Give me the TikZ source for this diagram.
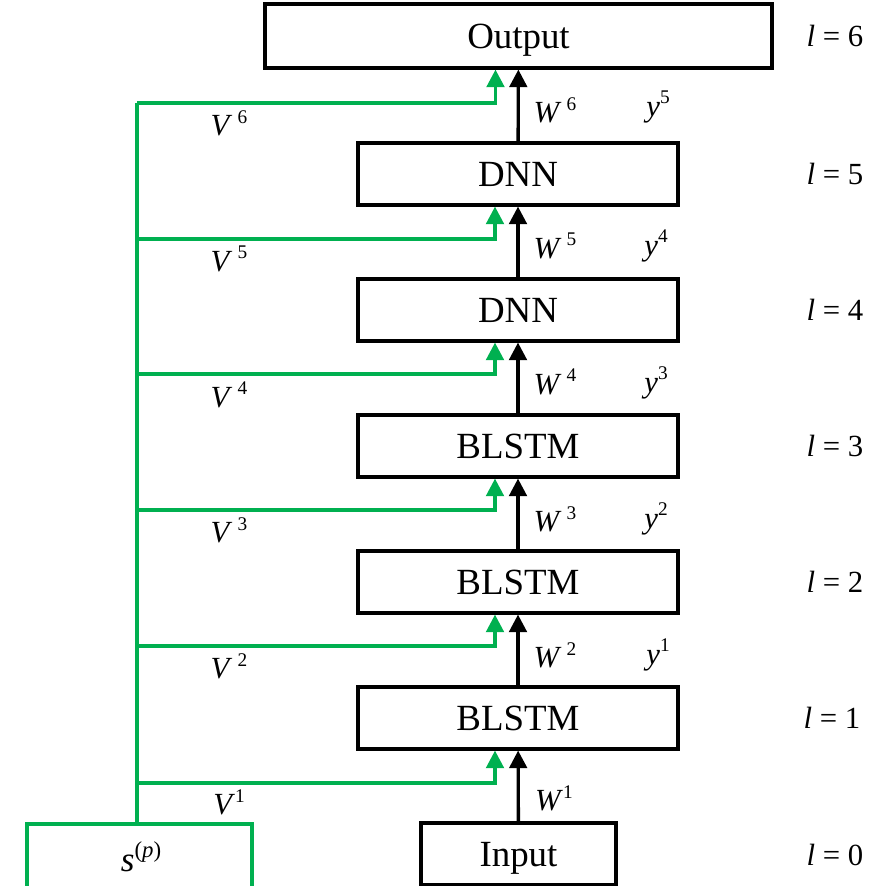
\documentclass[tikz,border=0pt]{standalone}
\usepackage{fontspec}
\setmainfont{Liberation Serif}
\usetikzlibrary{arrows.meta}
\definecolor{netgreen}{RGB}{0,176,80}
\newcommand{\lidx}[1]{\raisebox{7pt}{\fontsize{11}{12}\selectfont #1}}
\tikzstyle{layer}=[draw,line width=1.8pt,minimum width=6.4cm,minimum height=1.24cm,inner sep=0pt,text height=14pt,text depth=0pt,font=\fontsize{21}{24}\selectfont]
\tikzstyle{lbl}=[inner sep=0pt,font=\fontsize{17.5}{20}\selectfont]
\tikzstyle{feed} = [draw,line width=1.9pt,-{Triangle[width=10pt,length=10pt]}]
\tikzstyle{side} = [draw=netgreen,line width=1.9pt,-{Triangle[width=10pt,length=10pt]}]

\begin{document}
\begin{tikzpicture}[x=0.02cm,y=-0.02cm]
        \useasboundingbox (0,0) rectangle (887,886);

        \node[layer,minimum width=10.14cm,minimum height=1.28cm] (out) at (518.5,36) {Output};
        \node[layer] (l5) at (518,174) {DNN};
        \node[layer] (l4) at (518,310) {DNN};
        \node[layer] (l3) at (518,446) {BLSTM};
        \node[layer] (l2) at (518,582) {BLSTM};
        \node[layer] (l1) at (518,718) {BLSTM};
        \node[layer,minimum width=3.9cm] (in) at (518.5,854) {Input};
        \node[layer,draw=netgreen,minimum width=4.5cm,minimum height=1.52cm] (s) at (139.5,862) {};
        \node[lbl,font=\fontsize{20}{24}\selectfont] (slbl) at (141,857) {\textit{s}\raisebox{8pt}{\fontsize{13}{14}\selectfont(\textit{p})}};

        \draw[feed] (in) to (l1);
        \draw[feed] (l1) to (l2);
        \draw[feed] (l2) to (l3);
        \draw[feed] (l3) to (l4);
        \draw[feed] (l4) to (l5);
        \draw[feed] (l5) to (out);

        \coordinate (t1) at (137,783);
        \coordinate (t2) at (137,646);
        \coordinate (t3) at (137,510);
        \coordinate (t4) at (137,374);
        \coordinate (t5) at (137,239);
        \coordinate (t6) at (137,103);
        \draw[netgreen,line width=1.9pt] (t1 |- s.north) to (t6);
        \draw[side] (t1) -| ([xshift=-0.46cm]l1.south);
        \draw[side] (t2) -| ([xshift=-0.46cm]l2.south);
        \draw[side] (t3) -| ([xshift=-0.46cm]l3.south);
        \draw[side] (t4) -| ([xshift=-0.46cm]l4.south);
        \draw[side] (t5) -| ([xshift=-0.46cm]l5.south);
        \draw[side] (t6) -| ([xshift=-0.46cm]out.south);

        \node[lbl] (v6) at (229,123) {\textit{V}\,\lidx{6}};
        \node[lbl] (v5) at (229,259) {\textit{V}\,\lidx{5}};
        \node[lbl] (v4) at (229,395) {\textit{V}\,\lidx{4}};
        \node[lbl] (v3) at (229,530) {\textit{V}\,\lidx{3}};
        \node[lbl] (v2) at (229,666) {\textit{V}\,\lidx{2}};
        \node[lbl] (v1) at (229,802) {\textit{V}\lidx{1}};

        \node[lbl] (w6) at (555,110) {\textit{W}\,\lidx{6}};
        \node[lbl] (w5) at (555,246) {\textit{W}\,\lidx{5}};
        \node[lbl] (w4) at (555,382) {\textit{W}\,\lidx{4}};
        \node[lbl] (w3) at (555,519) {\textit{W}\,\lidx{3}};
        \node[lbl] (w2) at (555,655) {\textit{W}\,\lidx{2}};
        \node[lbl] (w1) at (554,798) {\textit{W}\lidx{1}};

        \node[lbl] (y5) at (658,107) {\textit{y}\lidx{5}};
        \node[lbl] (y4) at (656,246) {\textit{y}\lidx{4}};
        \node[lbl] (y3) at (656,383) {\textit{y}\lidx{3}};
        \node[lbl] (y2) at (656,519) {\textit{y}\lidx{2}};
        \node[lbl] (y1) at (658,655) {\textit{y}\lidx{1}};

        \node[lbl] (n6) at (835,36) {\textit{l} = 6};
        \node[lbl] (n5) at (835,174) {\textit{l} = 5};
        \node[lbl] (n4) at (835,310) {\textit{l} = 4};
        \node[lbl] (n3) at (835,446) {\textit{l} = 3};
        \node[lbl] (n2) at (835,582) {\textit{l} = 2};
        \node[lbl] (n1) at (832,718) {\textit{l} = 1};
        \node[lbl] (n0) at (835,855) {\textit{l} = 0};
      \end{tikzpicture}
\end{document}
